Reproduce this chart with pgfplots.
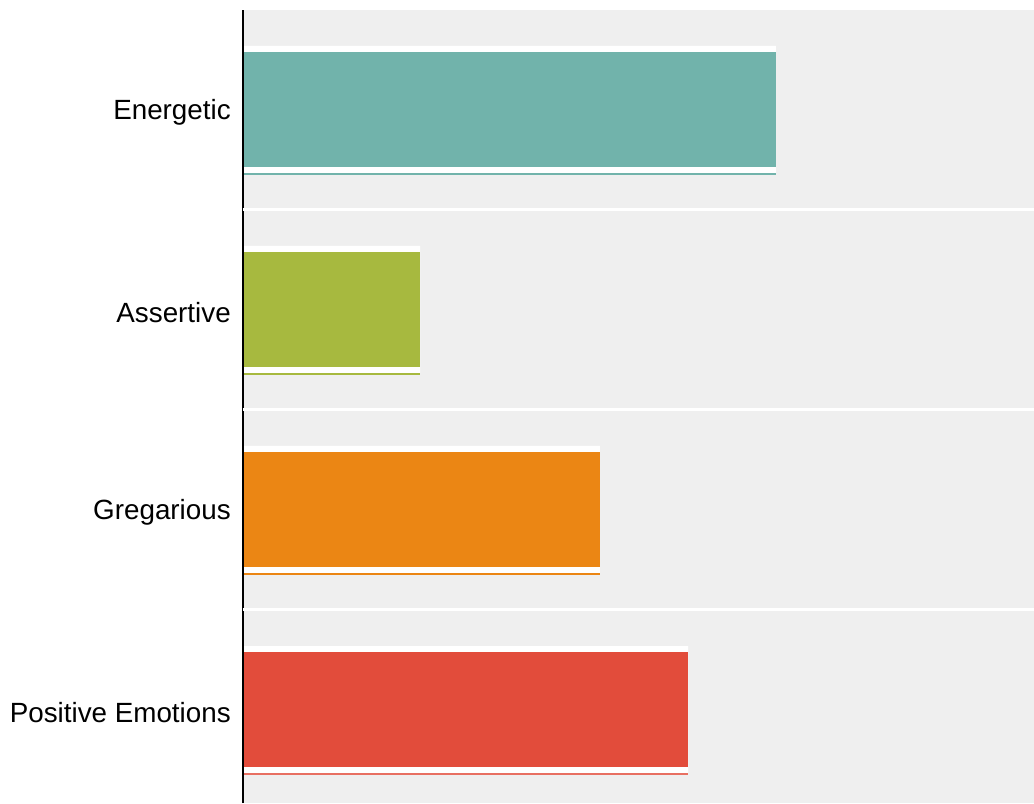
\documentclass[border=0pt]{standalone}
\usepackage{pgfplots}
\pgfplotsset{compat=1.18}
\usepackage{fontspec}
\setmainfont{Liberation Sans}
\definecolor{bg}{HTML}{EFEFEF}
\definecolor{cteal}{HTML}{71B3AB}
\definecolor{cgreen}{HTML}{A7B93F}
\definecolor{corange}{HTML}{EB8614}
\definecolor{cred}{HTML}{E24C3B}
\begin{document}
\begin{tikzpicture}
\begin{axis}[
  name=ax,
  scale only axis,
  width=593.25pt, height=594.75pt,
  xmin=0, xmax=1,
  ymin=-0.4675, ymax=3.4975,
  axis background/.style={fill=bg},
  axis on top,
  axis lines*=left,
  x axis line style={draw=none},
  y axis line style={black, line width=1.5pt, -},
  xtick=\empty,
  ytick={0,1,2,3},
  yticklabels={Positive Emotions, Gregarious, Assertive, Energetic},
  major tick length=0pt,
  ytick style={draw=none},
  yticklabel style={font=\fontsize{20.85}{25}\selectfont, anchor=east, inner sep=0pt, xshift=-9pt, yshift=-2.2pt},
  extra y ticks={0.5,1.5,2.5},
  extra y tick labels={},
  extra y tick style={grid=major, major grid style={white, line width=2.25pt}},
  clip=false,
]
% white backing strips
\addplot[xbar, bar width=95.25pt, bar shift=0pt, fill=white, draw=none]
  coordinates {(0.6738,3) (0.2238,2) (0.4513,1) (0.5626,0)};
% thin lines below
\addplot[xbar, bar width=1.1pt, bar shift=-48.3pt, fill=cteal, draw=none] coordinates {(0.6738,3)};
\addplot[xbar, bar width=1.1pt, bar shift=-48.3pt, fill=cgreen, draw=none] coordinates {(0.2238,2)};
\addplot[xbar, bar width=1.1pt, bar shift=-48.3pt, fill=corange, draw=none] coordinates {(0.4513,1)};
\addplot[xbar, bar width=1.1pt, bar shift=-48.3pt, fill=cred!80!white, draw=none] coordinates {(0.5626,0)};
% bars
\addplot[xbar, bar width=86.25pt, bar shift=0pt, fill=cteal, draw=none] coordinates {(0.6738,3)};
\addplot[xbar, bar width=86.25pt, bar shift=0pt, fill=cgreen, draw=none] coordinates {(0.2238,2)};
\addplot[xbar, bar width=86.25pt, bar shift=0pt, fill=corange, draw=none] coordinates {(0.4513,1)};
\addplot[xbar, bar width=86.25pt, bar shift=0pt, fill=cred, draw=none] coordinates {(0.5626,0)};
\end{axis}
\pgfresetboundingbox
\path[use as bounding box] ([xshift=-182.25pt]ax.south west) rectangle ([yshift=7.5pt]ax.north east);
\end{tikzpicture}
\end{document}
